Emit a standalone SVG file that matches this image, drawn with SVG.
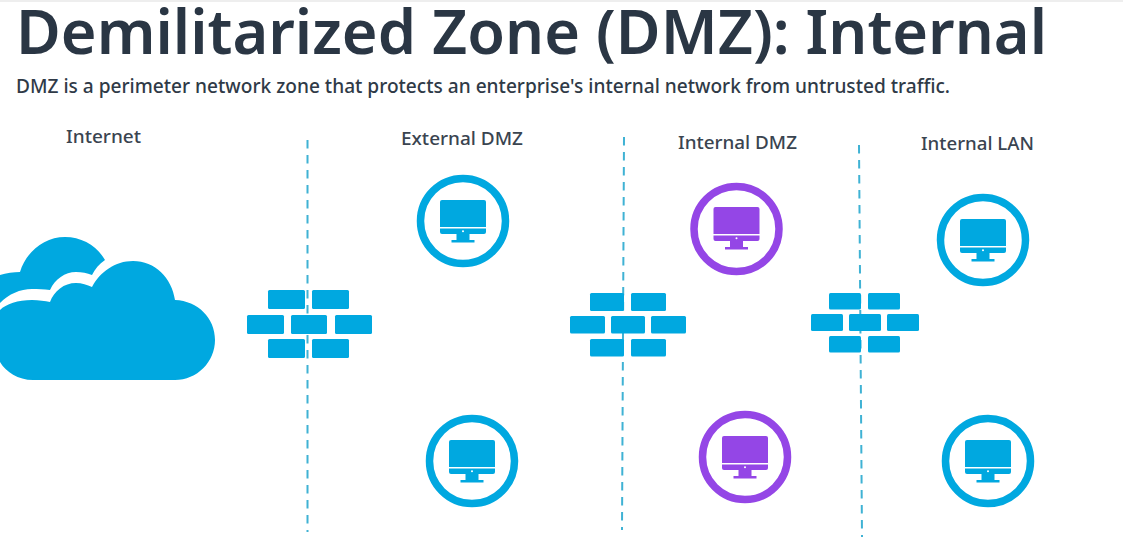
<svg xmlns="http://www.w3.org/2000/svg" width="1123" height="546" viewBox="0 0 1123 546">
<style>
text{font-family:"Noto Sans","Open Sans","Liberation Sans",sans-serif}
.title{font-size:62px;font-weight:600;fill:#2a3644}
.sub{font-size:19.500px;font-weight:500;fill:#2f3a47}
.lab{font-size:18.500px;font-weight:500;fill:#3a4450}
.blue{fill:#00a8e0}
.ring{fill:#fff;stroke-width:7.500}
.rb{stroke:#00a8e0}.rp{stroke:#9446e6}
.mb{fill:#00a8e0}.mp{fill:#9446e6}
.dash{stroke:#3fb2d4;stroke-width:2;stroke-dasharray:8.500 6.500;fill:none}
</style>
<defs>
<g id="monitor">
<path d="M-21-21H21a2 2 0 0 1 2 2V6H-23V-19a2 2 0 0 1 2-2Z"/>
<path d="M-23 7.500H23V11a2 2 0 0 1-2 2H-21a2 2 0 0 1-2-2Z"/>
<path d="M-6.500 13H6.500V19H11.500V21.500H-11.500V19H-6.500Z"/>
<circle cx="0" cy="10.200" r="1" fill="#fff"/>
</g>
</defs>
<rect x="0" y="0" width="1123" height="546" fill="#fff"/>
<rect x="0" y="0" width="1123" height="2" fill="#eeeeee"/>
<g id="title">
<text class="title" x="16" y="54" textLength="1031" lengthAdjust="spacingAndGlyphs">Demilitarized Zone (DMZ): Internal</text>
<text class="sub" x="16" y="92.500" textLength="934" lengthAdjust="spacingAndGlyphs">DMZ is a perimeter network zone that protects an enterprise's internal network from untrusted traffic.</text>
</g>
<g id="connectors">
<path class="dash" d="M307.500 140V532"/>
<path class="dash" d="M624 137L622 530"/>
<path class="dash" d="M859 145L862 537"/>
</g>
<g id="zone-labels">
<text class="lab" x="66" y="143" textLength="75" lengthAdjust="spacingAndGlyphs">Internet</text>
<text class="lab" x="401" y="145" textLength="122" lengthAdjust="spacingAndGlyphs">External DMZ</text>
<text class="lab" x="678" y="149" textLength="119" lengthAdjust="spacingAndGlyphs">Internal DMZ</text>
<text class="lab" x="921" y="150" textLength="113" lengthAdjust="spacingAndGlyphs">Internal LAN</text>
</g>
<g id="cloud" class="blue">
<path d="M0 310C6 304 18 300 32 300C39 300 45 301 50 302C54 291 64 283 76 283C82 283 87 285 92 287C100 272 115 261 133 261C155 261 172 278 175 300C198 301 215 318 215 340C215 362 197 380 175 380H33C18 380 6 372 0 362Z"/>
<path d="M0 275C6 273 14 272 20 272C26 252 44 237 65 237C82 237 97 246 105 260C99 264 95 269 92 275C87 273 82 272 76 272C65 272 55 279 50 290C44 289 38 289 32 289C20 289 9 294 0 303Z"/>
</g>
<g id="firewall-1" class="blue">
<rect x="268" y="290" width="37" height="19" rx="1.500"/><rect x="312" y="290" width="37" height="19" rx="1.500"/>
<rect x="247" y="315" width="37" height="19" rx="1.500"/><rect x="291" y="315" width="36" height="19" rx="1.500"/><rect x="335" y="315" width="37" height="19" rx="1.500"/>
<rect x="268" y="339" width="37" height="19" rx="1.500"/><rect x="312" y="339" width="37" height="19" rx="1.500"/>
</g>
<g id="firewall-2" class="blue">
<rect x="590" y="293" width="34" height="18" rx="1.500"/><rect x="631" y="293" width="35" height="18" rx="1.500"/>
<rect x="570" y="316" width="35" height="17.500" rx="1.500"/><rect x="611" y="316" width="34" height="17.500" rx="1.500"/><rect x="651" y="316" width="35" height="17.500" rx="1.500"/>
<rect x="590" y="339" width="34" height="17.500" rx="1.500"/><rect x="631" y="339" width="35" height="17.500" rx="1.500"/>
</g>
<g id="firewall-3" class="blue">
<rect x="829" y="293" width="32" height="16.500" rx="1.500"/><rect x="868" y="293" width="32" height="16.500" rx="1.500"/>
<rect x="811" y="314" width="32" height="17" rx="1.500"/><rect x="849" y="314" width="32" height="17" rx="1.500"/><rect x="887" y="314" width="32" height="17" rx="1.500"/>
<rect x="829" y="336" width="32" height="16.500" rx="1.500"/><rect x="868" y="336" width="32" height="16.500" rx="1.500"/>
</g>
<g id="ext-dmz-1"><circle class="ring rb" cx="463" cy="221" r="42.500"/><use href="#monitor" class="mb" x="463" y="221"/></g>
<g id="ext-dmz-2"><circle class="ring rb" cx="472" cy="461" r="42.500"/><use href="#monitor" class="mb" x="472" y="461"/></g>
<g id="int-dmz-1"><circle class="ring rp" cx="736.500" cy="229" r="42.500"/><use href="#monitor" class="mp" x="736.500" y="228"/></g>
<g id="int-dmz-2"><circle class="ring rp" cx="745" cy="457" r="42.500"/><use href="#monitor" class="mp" x="745" y="457"/></g>
<g id="lan-1"><circle class="ring rb" cx="983" cy="240" r="42.500"/><use href="#monitor" class="mb" x="983" y="240"/></g>
<g id="lan-2"><circle class="ring rb" cx="988" cy="461" r="42.500"/><use href="#monitor" class="mb" x="988" y="461"/></g>
</svg>
